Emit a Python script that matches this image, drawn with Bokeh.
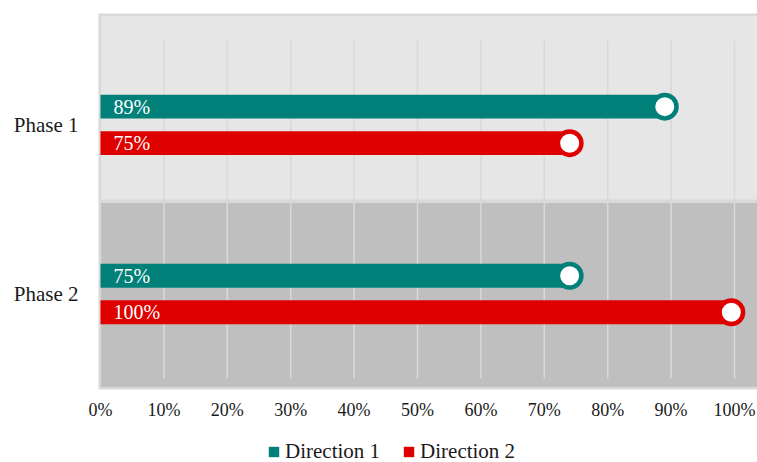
from bokeh.plotting import figure
from bokeh.layouts import column
from bokeh.models import (Range1d, FixedTicker, NumeralTickFormatter, Legend, LegendItem,
                          ColumnDataSource)
from bokeh.core.properties import value
from bokeh.embed import file_html
from bokeh.resources import INLINE

# ---- data ----
phases = ["Phase 1", "Phase 2"]
series = ["Direction 1", "Direction 2"]
dir1_values = [0.89, 0.74]
dir2_values = [0.74, 0.995]
dir1_labels = ["89%", "75%"]
dir2_labels = ["75%", "100%"]
x_ticks = [0, 0.1, 0.2, 0.3, 0.4, 0.5, 0.6, 0.7, 0.8, 0.9, 1.0]

# ---- style ----
TEAL = "#008079"
RED = "#df0000"
FONT = "Liberation Serif"
PX = 170.0  # pixels per category

phase_y = {"Phase 1": 1.0, "Phase 2": 0.0}
off = 0.108
bar_h = 0.141

W = 757
FRAME_L, FRAME_T, FRAME_H = 98, 13, 378
H1 = 422

p = figure(width=W, height=H1, output_backend="svg", toolbar_location=None,
           x_range=Range1d(-0.00315, -0.00315 + (W - FRAME_L) / 634.0),
           y_range=Range1d(-0.5647, -0.5647 + FRAME_H / PX),
           min_border_left=FRAME_L, min_border_right=0, min_border_top=FRAME_T,
           min_border_bottom=H1 - FRAME_T - FRAME_H)
p.outline_line_color = None
p.background_fill_color = "#d9d9d9"
p.border_fill_color = "white"
p.grid.visible = False

# bands
p.quad(left=[0.001], right=[1.2], top=[1.644], bottom=[0.5588], fill_color="#e6e6e6", line_color=None)
p.quad(left=[0.001], right=[1.2], top=[0.538], bottom=[-0.55], fill_color="#bfbfbf", line_color=None)

# grid lines
gx = [t for t in x_ticks if t > 0]
p.segment(x0=gx, x1=gx, y0=[-0.5] * len(gx), y1=[1.5] * len(gx), line_color="#d9d9d9", line_width=1.5)

y1 = [phase_y[ph] + off for ph in phases]
y2 = [phase_y[ph] - off for ph in phases]

s1 = ColumnDataSource(dict(y=y1, v=dir1_values, lab=dir1_labels, z=[0, 0]))
s2 = ColumnDataSource(dict(y=y2, v=dir2_values, lab=dir2_labels, z=[0, 0]))

p.hbar(y="y", left="z", right="v", height=bar_h, source=s1, fill_color=TEAL, line_color=None)
p.hbar(y="y", left="z", right="v", height=bar_h, source=s2, fill_color=RED, line_color=None)

p.scatter(x="v", y="y", source=s1, size=23.5, fill_color="white", line_color=TEAL, line_width=4.5)
p.scatter(x="v", y="y", source=s2, size=23.5, fill_color="white", line_color=RED, line_width=4.5)

for s in (s1, s2):
    p.text(x="z", y="y", text="lab", source=s, x_offset=13, text_baseline="middle",
           text_align="left", text_color="white", text_font=value(FONT), text_font_size="20px")

# axes
xa = p.xaxis[0]
xa.ticker = FixedTicker(ticks=x_ticks)
xa.formatter = NumeralTickFormatter(format="0%")
xa.axis_line_color = None
xa.major_tick_line_color = None
xa.minor_tick_line_color = None
xa.major_label_standoff = 4
xa.major_label_text_font = FONT
xa.major_label_text_font_size = "18px"
xa.major_label_text_color = "#1a1a1a"

ya = p.yaxis[0]
ya.ticker = FixedTicker(ticks=[phase_y[ph] for ph in phases])
ya.major_label_overrides = {phase_y[ph]: ph for ph in phases}
ya.axis_line_color = None
ya.major_tick_line_color = None
ya.minor_tick_line_color = None
ya.major_label_standoff = 14
ya.major_label_text_font = FONT
ya.major_label_text_font_size = "21px"
ya.major_label_text_color = "#1a1a1a"

# ---- legend strip ----
H2 = 462 - H1
p2 = figure(width=W, height=H2, output_backend="svg", toolbar_location=None,
            x_range=Range1d(0, 1), y_range=Range1d(0, 1),
            x_axis_type=None, y_axis_type=None,
            min_border_left=0, min_border_right=0, min_border_top=0, min_border_bottom=0)
p2.outline_line_color = None
p2.grid.visible = False
# legend proxies, kept outside the visible range
d1 = p2.hbar(y=[5], left=[5], right=[6], height=0.1, fill_color=TEAL, line_color=None)
d2 = p2.hbar(y=[5], left=[5], right=[6], height=0.1, fill_color=RED, line_color=None)

legend = Legend(items=[LegendItem(label=series[0], renderers=[d1]),
                       LegendItem(label=series[1], renderers=[d2])],
                orientation="horizontal", location=(169, -2),
                glyph_width=13, glyph_height=13, label_standoff=5, spacing=22,
                label_height=20, padding=0, margin=0, border_line_color=None,
                background_fill_alpha=0,
                label_text_font=FONT, label_text_font_size="21px", label_text_color="#1a1a1a")
p2.add_layout(legend)

layout = column(p, p2, spacing=0)
open("out.html", "w").write(file_html(layout, INLINE))
